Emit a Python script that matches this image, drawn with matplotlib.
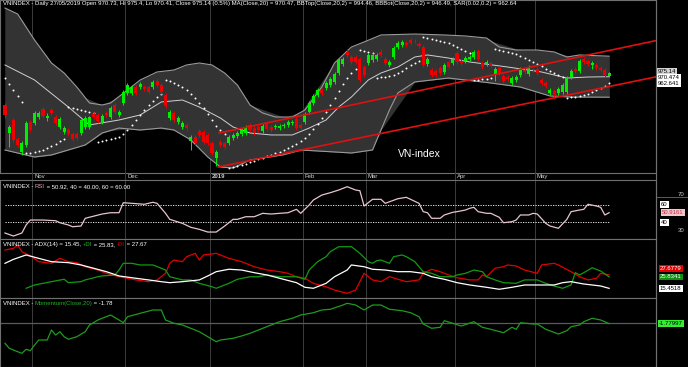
import numpy as np
import matplotlib
matplotlib.use("Agg")
import matplotlib.pyplot as plt
import matplotlib.transforms as mtransforms
from matplotlib.lines import Line2D

# ---------------- data ----------------
MONTH_LABELS = ["Nov", "Dec", "2019", "Feb", "Mar", "Apr", "May"]
MONTH_START = [7, 29, 49, 71, 86, 107, 126]   # bar index of first session of each month

OPEN = [937.4, 904.6, 919.8, 897.6, 882.4, 890.6, 917.5, 916.3, 923.3, 932.7,
        922.1, 931.5, 923.3, 911.6, 905.8, 908.1, 903.4, 903.4, 904.6, 911.6,
        911.6, 926.8, 925.7, 917.5, 928.0, 923.3, 937.4, 925.7, 939.7, 951.4,
        951.4, 958.4, 958.4, 958.4, 958.4, 958.4, 965.4, 960.8, 949.1, 922.1,
        928.0, 917.5, 911.6, 914.0, 895.2, 899.9, 906.9, 905.8, 902.3, 892.9,
        875.3, 894.1, 892.9, 892.9, 898.7, 901.1, 903.4, 904.6, 914.0, 910.4,
        911.6, 906.9, 915.1, 911.6, 911.6, 910.4, 912.8, 914.0, 916.3, 920.9,
        914.0, 917.5, 929.2, 939.7, 949.1, 954.9, 957.2, 960.8, 964.3, 974.8,
        985.3, 999.4, 993.5, 993.5, 991.2, 981.8, 986.5, 990.0, 991.2, 999.4,
        991.2, 984.2, 993.5, 1005.2, 1007.5, 1009.9, 1013.4, 1012.2, 1008.7, 1005.2,
        985.3, 978.3, 977.1, 980.6, 976.0, 987.7, 986.5, 998.2, 988.8, 988.8,
        991.2, 993.5, 1000.5, 986.5, 985.3, 986.5, 973.6, 980.6, 971.3, 970.1,
        963.1, 966.6, 972.5, 978.3, 973.6, 978.5, 979.5, 966.6, 963.1, 951.4,
        953.7, 951.4, 952.6, 952.6, 970.1, 979.5, 977.1, 991.2, 988.8, 984.2,
        984.2, 980.6, 978.3, 970.73]
CLOSE = [925.7, 911.6, 896.4, 890.6, 892.9, 916.3, 908.1, 928.0, 928.0, 924.5,
         924.5, 928.0, 916.3, 921.0, 910.4, 903.4, 897.6, 898.7, 919.8, 922.1,
         923.3, 923.3, 918.6, 924.5, 925.7, 933.8, 929.2, 929.2, 952.6, 960.8,
         958.4, 951.4, 961.9, 956.1, 952.6, 964.3, 960.8, 952.6, 936.2, 929.2,
         919.8, 922.1, 916.3, 910.4, 899.9, 892.9, 902.3, 894.1, 892.9, 881.2,
         882.4, 890.6, 888.2, 899.9, 902.3, 904.6, 908.1, 911.6, 908.1, 904.6,
         908.1, 912.8, 909.3, 908.1, 912.8, 912.8, 914.0, 917.5, 917.5, 910.4,
         910.4, 926.8, 939.7, 947.9, 954.9, 951.4, 963.1, 967.8, 973.6, 990.0,
         991.2, 995.9, 987.7, 987.7, 966.6, 972.5, 995.9, 995.9, 995.9, 995.9,
         986.5, 987.7, 1004.0, 1009.9, 1011.1, 1007.5, 1009.9, 1012.0, 1006.4, 984.2,
         991.2, 972.5, 972.5, 974.8, 984.2, 981.8, 991.2, 987.7, 986.5, 992.3,
         993.5, 999.4, 991.2, 981.8, 987.7, 984.2, 979.5, 974.8, 965.4, 967.8,
         968.9, 970.1, 979.5, 976.0, 981.8, 978.3, 974.8, 963.1, 959.6, 954.9,
         947.9, 956.1, 960.8, 968.9, 977.1, 977.1, 988.8, 987.7, 985.3, 986.5,
         980.6, 978.3, 972.5, 975.14]
HIGH = [940.0, 914.0, 922.0, 900.0, 895.0, 918.5, 920.0, 930.0, 930.5, 935.0,
        928.0, 934.0, 925.5, 923.0, 912.5, 910.0, 905.5, 905.5, 921.5, 924.0,
        925.0, 929.0, 927.5, 926.5, 930.0, 936.0, 939.5, 931.5, 954.5, 963.0,
        960.5, 960.5, 964.0, 960.5, 960.5, 966.5, 967.5, 963.0, 951.0, 931.5,
        930.0, 924.0, 918.5, 916.0, 902.0, 902.0, 909.0, 908.0, 904.5, 895.0,
        884.5, 896.0, 895.0, 902.0, 904.5, 906.5, 910.0, 913.5, 916.0, 912.5,
        913.5, 915.0, 917.0, 913.5, 915.0, 915.0, 916.0, 919.5, 919.5, 923.0,
        916.0, 929.0, 941.5, 950.0, 957.0, 957.0, 965.0, 970.0, 975.5, 992.0,
        993.5, 1003.0, 995.5, 995.5, 993.0, 984.0, 998.0, 998.0, 998.0, 1003.0,
        993.5, 990.0, 1006.0, 1012.0, 1013.5, 1012.0, 1015.5, 1014.5, 1011.0, 1007.0,
        993.5, 980.5, 979.5, 983.0, 986.5, 990.0, 993.5, 1000.5, 991.0, 994.5,
        995.5, 1001.5, 1002.5, 988.5, 990.0, 988.5, 981.5, 983.0, 973.5, 972.0,
        971.0, 972.0, 981.5, 980.5, 984.0, 981.0, 981.5, 968.5, 965.0, 957.0,
        955.5, 958.0, 963.0, 971.0, 979.5, 981.5, 991.0, 993.5, 991.0, 988.5,
        986.5, 982.5, 980.5, 975.4]
LOW = [922.0, 888.2, 894.0, 888.5, 879.0, 888.5, 906.0, 914.0, 921.0, 922.5,
       919.0, 926.0, 914.0, 909.5, 903.5, 901.0, 895.5, 896.5, 902.5, 909.5,
       909.5, 921.0, 916.5, 915.5, 923.5, 921.0, 927.0, 923.5, 937.5, 949.0,
       949.0, 949.0, 956.0, 954.0, 950.5, 956.0, 958.5, 950.5, 934.0, 920.0,
       917.5, 915.5, 909.5, 908.5, 884.7, 891.0, 900.0, 892.0, 891.0, 879.0,
       866.0, 888.5, 886.0, 891.0, 896.5, 899.0, 901.5, 902.5, 906.0, 902.5,
       906.0, 905.0, 907.5, 906.0, 909.5, 908.5, 911.0, 912.0, 914.5, 908.5,
       908.5, 915.5, 927.0, 937.5, 947.0, 949.5, 955.0, 958.5, 962.0, 972.5,
       983.0, 994.0, 985.5, 985.5, 964.0, 970.0, 984.5, 988.0, 989.0, 994.0,
       984.5, 982.0, 991.5, 1003.0, 1005.5, 1005.5, 1008.0, 1009.5, 1004.0, 982.0,
       983.0, 970.5, 970.5, 972.5, 974.0, 979.5, 984.5, 985.5, 984.5, 986.5,
       989.0, 991.5, 989.0, 979.5, 983.0, 982.0, 966.0, 972.5, 963.0, 965.5,
       961.0, 964.5, 970.5, 974.0, 971.5, 976.0, 972.5, 961.0, 957.5, 949.5,
       945.5, 949.5, 950.5, 950.5, 968.0, 975.0, 975.0, 985.5, 983.0, 979.0,
       978.5, 976.0, 970.5, 970.41]

SAR = [968.9, 961.9, 954.9, 947.9, 940.9,
       881.2, 881.2, 882.4, 883.5, 884.7, 887.0, 889.4, 891.7, 895.2, 897.6,
       935.0, 933.8, 932.7, 931.5, 930.3, 929.2, 928.0,
       894.1, 895.2, 896.4, 897.6, 898.7, 899.9, 903.4, 908.1, 914.0, 919.8,
       925.7, 931.5, 937.4, 942.0, 946.7, 950.2,
       966.6, 965.4, 963.1, 960.8, 958.4, 954.9, 950.2, 945.5, 939.7, 933.8,
       926.8, 919.8, 912.8, 908.1, 903.4,
       863.6, 864.8, 866.0, 867.2, 868.3, 870.7, 871.8, 874.2, 875.3, 877.7,
       878.9, 881.2, 882.4, 884.7, 887.0, 889.4, 891.7, 895.2, 898.7, 903.4,
       909.3, 915.1, 922.1, 929.2, 937.4, 945.5, 953.7, 961.9, 968.9, 974.8, 979.5,
       1001.7, 1000.5, 999.4, 998.2,
       968.9, 970.1, 970.1, 971.3, 972.5, 974.8, 977.1, 980.6, 984.2, 986.5, 988.8,
       1016.9, 1015.7, 1014.6, 1013.4, 1012.2, 1011.1, 1009.9, 1007.5, 1005.2, 1002.9, 1000.5, 998.2,
       966.6, 966.6, 967.8, 967.8, 968.9,
       1002.9, 1001.7, 1000.5, 999.4, 998.2, 997.0, 994.7, 992.3, 990.0, 987.7,
       985.3, 983.0, 979.5, 977.1, 974.8, 972.5, 970.1,
       945.5, 946.7, 946.7, 947.9, 949.1, 950.2, 952.6, 955.0, 957.2, 959.6, 962.64]

BBTOP_X = [0, 3, 5, 7, 11, 14, 17, 20, 23, 25, 29, 32, 36, 40, 43, 46, 49, 52, 55, 58,
           61, 64, 68, 71, 75, 78, 82, 85, 89, 97, 104, 109, 114, 117, 121, 126, 130, 133, 136, 143]
BBTOP = [1050.8, 1043.8, 1028.6, 1013.4, 986.5, 974.8, 958.4, 939.7, 937.4, 939.7,
         954.9, 966.6, 976.0, 978.3, 984.2, 986.5, 984.2, 974.8, 960.8, 937.4,
         928.0, 923.3, 923.3, 931.5, 958.4, 986.5, 1005.2, 1011.1, 1019.3, 1020.4,
         1019.3, 1018.1, 1015.7, 1005.2, 1001.7, 1001.7, 999.4, 993.5, 995.9, 994.46]
BBBOT_X = [0, 4, 7, 11, 19, 23, 27, 32, 37, 40, 44, 48, 51, 54, 58, 66, 70, 78, 82,
           87, 91, 93, 97, 101, 105, 115, 122, 129, 134, 143]
BBBOT = [884.7, 880.0, 876.5, 878.9, 890.6, 904.6, 910.4, 908.1, 910.4, 908.1,
         896.4, 876.5, 864.8, 863.6, 873.0, 879.2, 884.7, 882.4, 881.2,
         884.7, 931.5, 951.4, 964.3, 966.6, 968.9, 963.1, 958.4, 947.9, 946.7, 946.49]
MA_X = [0, 7, 15, 20, 27, 32, 37, 42, 46, 51, 54, 58, 63, 68, 72, 76, 79, 82, 86,
        89, 93, 97, 100, 105, 110, 119, 127, 133, 138, 143]
MA = [984.2, 966.6, 935.0, 914.0, 919.8, 925.7, 940.9, 943.2, 935.0, 922.1,
      911.6, 904.6, 902.3, 902.3, 910.4, 919.8, 935.0, 946.7, 966.6,
      974.8, 981.8, 993.5, 995.9, 992.3, 987.7, 981.8, 976.0, 968.9, 970.1, 970.47]

TREND_UP_X = [50.7, 154.1]
TREND_UP = [904.6, 1012.7]
TREND_LO_X = [50.5, 154.1]
TREND_LO = [864.8, 970.3]

RSI_X = [0, 2, 4, 5, 6, 9, 12, 13, 15, 16, 18, 19, 23, 25, 27, 28, 30, 33, 35, 36,
         38, 39, 42, 44, 46, 48, 50, 52, 54, 55, 57, 59, 61, 63, 65, 67, 69, 70, 72, 73,
         75, 77, 79, 81, 83, 84, 85, 87, 89, 90, 93, 95, 96, 98, 99, 100, 101, 103,
         104, 106, 107, 109, 110, 111, 112, 114, 115, 117, 118, 120, 121, 122, 124, 125,
         126, 128, 129, 131, 133, 134, 136, 137, 138, 140, 141, 142, 143]
RSI = [27.6, 24.1, 27.6, 36.8, 42.5, 42.5, 41.7, 39.4, 36.8, 34.8, 35.6, 44.5, 49.4, 50.9,
       50.9, 62.4, 61.7, 60.6, 62.9, 61.7, 50.2, 43.3, 38.7, 34.1, 31.8, 28.7, 28.7, 35.6,
       43.3, 43.3, 46.3, 46.3, 50.2, 49.4, 50.2, 50.9, 54.8, 50.2, 59.8, 65.5, 71.2, 73.9,
       77.0, 80.8, 77.0, 76.2, 58.6, 66.3, 66.3, 61.7, 67.0, 68.6, 66.3, 61.7, 52.1, 50.9,
       44.5, 44.5, 48.3, 51.4, 52.1, 54.0, 56.0, 57.1, 52.1, 50.2, 50.2, 45.6, 39.4, 40.6,
       42.5, 48.3, 48.3, 50.2, 49.4, 38.7, 35.6, 33.0, 43.3, 52.1, 54.0, 54.8, 60.6, 58.6,
       57.1, 48.3, 50.92]

MDI_X = [0, 2, 3, 4, 6, 8, 11, 13, 15, 17, 19, 22, 24, 27, 29, 31, 34, 36, 38, 39,
         40, 42, 43, 45, 46, 47, 49, 50, 53, 56, 59, 62, 65, 67, 69, 71, 73, 76, 78, 81,
         83, 85, 87, 89, 91, 93, 95, 98, 99, 101, 103, 105, 107, 110, 112, 113, 114, 116,
         118, 119, 121, 123, 126, 127, 130, 131, 134, 136, 138, 140, 141, 143]
MDI = [50.3, 51.8, 54.8, 48.8, 44.9, 39.7, 38.2, 42.8, 39.7, 38.8, 35.1, 32.1, 29.1, 26.0,
       24.6, 23.1, 21.5, 23.1, 29.1, 38.2, 41.2, 39.7, 44.2, 47.3, 41.2, 45.8, 46.7, 47.3,
       42.7, 39.7, 35.1, 32.1, 30.6, 29.1, 26.0, 24.6, 20.0, 16.9, 13.9, 10.9, 13.9, 29.1,
       23.1, 21.5, 26.0, 23.7, 21.5, 23.1, 29.1, 32.8, 30.6, 27.6, 25.1, 23.1, 23.1, 27.6,
       26.0, 33.7, 35.1, 36.7, 35.8, 32.1, 29.1, 36.7, 38.2, 36.7, 30.6, 26.0, 23.1, 24.6,
       29.1, 27.68]
PDI_X = [5, 7, 9, 11, 14, 15, 18, 19, 22, 23, 26, 27, 28, 30, 32, 35, 37, 38, 39, 42,
         44, 46, 49, 50, 53, 55, 58, 60, 62, 65, 67, 69, 71, 72, 74, 76, 77, 79, 81, 82,
         84, 86, 87, 88, 89, 91, 92, 94, 95, 97, 99, 101, 103, 106, 107, 109, 111, 113,
         114, 116, 118, 121, 123, 126, 128, 130, 132, 134, 135, 136, 137, 139, 141, 143]
PDI = [15.5, 18.5, 20.0, 21.5, 23.7, 20.6, 21.5, 23.1, 26.0, 26.7, 27.6, 32.1, 38.2, 38.2,
       36.7, 36.7, 33.7, 32.1, 26.0, 23.1, 23.1, 20.0, 16.9, 15.5, 20.0, 23.7, 26.0, 26.0,
       27.6, 26.0, 26.0, 26.0, 23.7, 32.1, 39.7, 44.2, 48.8, 53.3, 53.3, 53.3, 47.3, 39.7,
       38.2, 40.6, 41.2, 38.2, 44.2, 45.8, 44.2, 39.7, 30.6, 29.1, 26.0, 26.0, 27.6, 29.1,
       32.1, 30.6, 26.0, 23.1, 20.6, 20.0, 23.1, 23.1, 20.0, 17.6, 15.5, 18.5, 29.7, 27.6,
       29.7, 34.2, 31.2, 25.83]
ADX_X = [0, 2, 5, 8, 11, 15, 18, 21, 24, 27, 31, 34, 37, 39, 42, 46, 48, 50, 53, 56,
         59, 62, 65, 69, 71, 73, 76, 78, 81, 82, 85, 87, 90, 93, 96, 99, 101, 104, 107,
         110, 114, 117, 120, 123, 126, 130, 132, 134, 137, 141, 143]
ADX = [38.2, 41.8, 45.8, 42.7, 39.7, 38.8, 36.7, 33.7, 30.6, 26.7, 24.6, 23.1, 21.5, 20.6,
       21.5, 23.1, 26.7, 30.6, 32.8, 32.1, 29.7, 27.6, 24.6, 20.6, 16.4, 15.5, 20.0, 26.0,
       32.1, 36.7, 35.1, 32.8, 32.1, 30.6, 30.6, 29.1, 26.0, 23.7, 20.6, 18.5, 16.4, 14.6,
       16.4, 18.5, 18.5, 18.5, 20.6, 21.5, 19.4, 17.6, 15.45]

MOM_X = [0, 1, 3, 4, 5, 6, 7, 8, 10, 11, 12, 13, 14, 15, 17, 19, 20, 22, 23, 25,
         27, 28, 29, 32, 35, 37, 38, 40, 42, 45, 46, 48, 50, 51, 54, 56, 58, 61, 63, 65,
         68, 70, 73, 75, 77, 80, 81, 83, 85, 87, 89, 91, 94, 96, 98, 99, 101, 103, 104, 106,
         108, 111, 113, 115, 118, 120, 121, 122, 125, 126, 128, 131, 133, 134, 136, 137,
         139, 141, 142, 143]
MOM = [-76.6, -95.6, -108.6, -114.6, -99.4, -104.8, -83.1, -64.1, -64.1, -26.1,
       -45.1, -32.6, -51.6, -61.4, -51.6, -32.6, -7.1, 11.9, 18.4, 30.9,
       11.9, 1.6, 24.4, 37.4, 49.9, 49.9, 11.9, -0.6, -7.1, -26.1,
       -32.6, -51.6, -70.6, -64.1, -57.6, -48.9, -38.6, -19.6, -7.1, 5.4,
       18.4, 30.9, 39.6, 49.9, 52.6, 68.9, 75.4, 68.9, 49.9, 68.9,
       68.9, 52.6, 47.2, 39.6, 24.4, -3.3, -19.6, -15.8, 9.3, -0.6,
       -10.9, 5.4, -15.8, -23.4, -36.4, -15.8, -23.4, 1.6, -3.3, -3.3,
       -23.4, -41.3, -28.8, -13.6, -7.1, 5.4, 18.4, 11.9, 5.0, -1.78]

TITLE_MAIN = ("VNINDEX - Daily 27/05/2019 Open 970.73, Hi 975.4, Lo 970.41, Close 975.14 (0.5%) "
              "MA(Close,20) = 970.47, BBTop(Close,20,2) = 994.46, BBBot(Close,20,2) = 946.49, "
              "SAR(0.02,0.2) = 962.64")

# ---------------- figure ----------------
W, H = 688, 367
FONT = "Liberation Sans"
FS = 4.35
plt.rcParams["font.family"] = [FONT, "DejaVu Sans"]

fig = plt.figure(figsize=(W / 100, H / 100), dpi=100, facecolor="black")
XL = (-1.18, 154.1)
GRID_C = "#3c3c3c"
SPINE_C = "#707070"


def add_ax(top, bottom):
    ax = fig.add_axes([0, 1 - bottom / H, 656 / W, (bottom - top) / H])
    ax.set_facecolor("black")
    for s in ax.spines.values():
        s.set_color(SPINE_C)
        s.set_linewidth(0.8)
    ax.set_xticks([])
    ax.set_yticks([])
    ax.set_xlim(*XL)
    for m in MONTH_START:
        ax.axvline(m - 0.5, color=GRID_C, lw=0.7, zorder=0)
    return ax


def rainbow(ax, x, y, parts):
    t = ax.text(x, y, parts[0][0], color=parts[0][1], fontsize=FS,
                transform=ax.transAxes, va="top", ha="left")
    for s, c in parts[1:]:
        t = ax.annotate(s, xycoords=t, xy=(1, 0), va="bottom", ha="left",
                        color=c, fontsize=FS)


def tag(ax, y, s, fc, tc, x=658):
    tr = mtransforms.blended_transform_factory(fig.transFigure, ax.transData)
    ax.text(x / W, y, s, transform=tr, fontsize=FS, color=tc, va="center", ha="left",
            bbox=dict(boxstyle="square,pad=0.15", fc=fc, ec="none"), clip_on=False)


# ---- main price panel ----
ax = add_ax(0, 173)
ax.set_ylim(857.8, 1060.2)
ax.fill_between(BBTOP_X, BBTOP, np.interp(BBTOP_X, BBBOT_X, BBBOT), color="#333333", lw=0, zorder=1)
ax.fill_between(BBBOT_X, np.interp(BBBOT_X, BBTOP_X, BBTOP), BBBOT, color="#333333", lw=0, zorder=1)
ax.plot(BBTOP_X, BBTOP, color="#9a9a9a", lw=0.8, zorder=2)
ax.plot(BBBOT_X, BBBOT, color="#9a9a9a", lw=0.8, zorder=2)
ax.plot(MA_X, MA, color="#d0d0d0", lw=0.7, zorder=2)
idx = np.arange(len(CLOSE))
ax.scatter(idx, SAR, s=2.0, color="white", lw=0, zorder=3)
o = np.array(OPEN)
c = np.array(CLOSE)
up = c >= o
cols = np.where(up, "#00ee00", "#ee0000")
ax.vlines(idx, LOW, HIGH, colors=cols, lw=0.7, zorder=4)
body = np.maximum(np.abs(c - o), 0.6)
ax.bar(idx, body, bottom=np.minimum(o, c), width=0.72, color=cols, lw=0, zorder=4)
ax.plot(TREND_UP_X, TREND_UP, color="#e01010", lw=1.2, zorder=5)
ax.plot(TREND_LO_X, TREND_LO, color="#e01010", lw=1.2, zorder=5)
ax.text(93, 880, "VN-index", color="white", fontsize=7.5, ha="left", va="center", zorder=6)
ax.text(0.004, 0.995, TITLE_MAIN, transform=ax.transAxes, color="white", fontsize=FS,
        va="top", ha="left")
tag(ax, 975.14 + 1.5, "975.14", "#d4d4d4", "black")
tag(ax, 970.474 - 0.5, "970.474", "white", "black")
tag(ax, 962.641 - 0.5, "962.641", "white", "black")

# ---- date strip ----
axd = fig.add_axes([0, 1 - 180 / H, 656 / W, 7 / H])
axd.set_facecolor("black")
axd.set_xlim(*XL)
axd.set_ylim(0, 1)
axd.axis("off")
for m, lab in zip(MONTH_START, MONTH_LABELS):
    axd.axvline(m - 0.5, color=GRID_C, lw=0.7)
    axd.text(m - 0.1, 0.5, lab, color="#cfcfcf", fontsize=FS, va="center", ha="left",
             fontweight="bold" if lab == "2019" else "normal")

# ---- RSI panel ----
ar = add_ax(180, 239)
ar.set_ylim(20.7, 88.5)
ar.plot([0, len(CLOSE) - 1], [60, 60], color="white", lw=0.6, ls=(0, (1.5, 1.5)))
ar.plot([0, len(CLOSE) - 1], [40, 40], color="white", lw=0.6, ls=(0, (1.5, 1.5)))
ar.plot(RSI_X, RSI, color="#e8c4cc", lw=0.9)
rainbow(ar, 0.004, 0.93, [("VNINDEX - ", "white"), ("RSI", "#e8a0b0"),
                          (" = 50.92, 40 = 40.00, 60 = 60.00", "white")])
tr = mtransforms.blended_transform_factory(fig.transFigure, ar.transData)
ar.text(678 / W, 71.5, "70", transform=tr, fontsize=FS, color="#c8c8c8", va="center", clip_on=False)
ar.text(678 / W, 30, "30", transform=tr, fontsize=FS, color="#c8c8c8", va="center", clip_on=False)
ar.add_line(Line2D([656 / W, 1.0], [69.2, 69.2], transform=tr, color="#5a5a5a", lw=0.7, clip_on=False))
tag(ar, 60, "60", "white", "black", x=661)
tag(ar, 50.92, "50.9161", "#f2c4cc", "#c03040", x=662)
tag(ar, 40, "40", "white", "black", x=661)

# ---- ADX panel ----
aa = add_ax(239, 298)
aa.set_ylim(6.67, 60.3)
aa.plot(MDI_X, MDI, color="#e00000", lw=0.9)
aa.plot(PDI_X, PDI, color="#129a12", lw=0.9)
aa.plot(ADX_X, ADX, color="white", lw=0.9)
rainbow(aa, 0.004, 0.95, [("VNINDEX - ADX(14) = 15.45, ", "white"), ("+DI", "#20b020"),
                          (" = 25.83, ", "white"), ("-DI", "#e00000"), (" = 27.67", "white")])
tag(aa, 33.3, "27.6779", "#e00000", "white", x=660)
tag(aa, 25.83, "25.8341", "#109010", "white", x=660)
tag(aa, 15.45, "15.4518", "white", "black", x=660)

# ---- Momentum panel ----
am = add_ax(298, 367)
am.set_ylim(-166.7, 95.5)
am.axhline(0, color="#5a5a5a", lw=0.9)
am.plot(MOM_X, MOM, color="#1f9a1f", lw=0.9)
rainbow(am, 0.004, 0.95, [("VNINDEX - ", "white"), ("Momentum(Close,20)", "#20b020"),
                          (" = -1.78", "white")])
tag(am, -1.78, "-1.77997", "#33ee33", "black", x=659)

# vertical separator of the value column through the date strip
fig.add_artist(Line2D([656 / W, 656 / W], [0, 1], transform=fig.transFigure, color=SPINE_C, lw=0.8))

fig.savefig("out.png", dpi=100, facecolor="black")
